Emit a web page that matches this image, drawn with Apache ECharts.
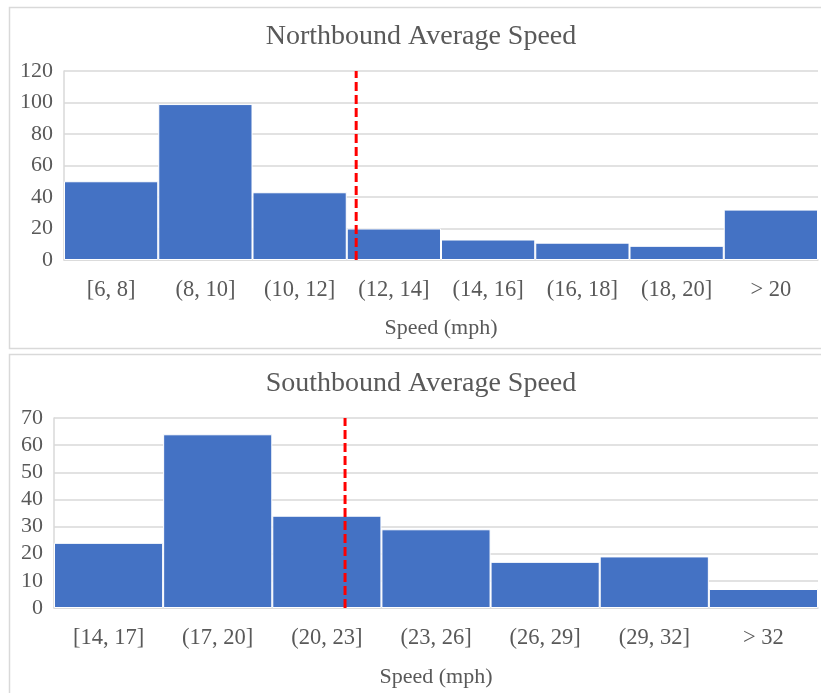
<!DOCTYPE html>
<html><head><meta charset="utf-8">
<script src="https://cdn.jsdelivr.net/npm/echarts@6/dist/echarts.min.js"></script>
<style>html,body{margin:0;padding:0;background:#fff}#c{width:821px;height:693px}</style>
</head><body><div id="c"></div>
<script>
// ---- Northbound data ----
const northTitle = 'Northbound Average Speed';
const northCategories = ['[6, 8]', '(8, 10]', '(10, 12]', '(12, 14]', '(14, 16]', '(16, 18]', '(18, 20]', '> 20'];
const northCounts = [50, 99, 43, 20, 13, 11, 9, 32];
const northBinStart = 6;
const northBinWidth = 2;
const northMeanSpeed = 12.2;
const northYMax = 120;
const northYInterval = 20;

// ---- Southbound data ----
const southTitle = 'Southbound Average Speed';
const southCategories = ['[14, 17]', '(17, 20]', '(20, 23]', '(23, 26]', '(26, 29]', '(29, 32]', '> 32'];
const southCounts = [24, 64, 34, 29, 17, 19, 7];
const southBinStart = 14;
const southBinWidth = 3;
const southMeanSpeed = 22.0;
const southYMax = 70;
const southYInterval = 10;

const xAxisName = 'Speed (mph)';

const FONT = '"Liberation Serif", "Times New Roman", serif';
const TXT = '#595959';
const GRIDC = '#d9d9d9';
const BAR = '#4472C4';

function catAxis(gridIndex, cats, labelMargin, nameGap) {
  return {
    type: 'category', gridIndex, data: cats, boundaryGap: true,
    axisLine: { show: true, lineStyle: { color: GRIDC, width: 1.5 } },
    axisTick: { show: false },
    axisLabel: { color: TXT, fontFamily: FONT, fontSize: 22.5, margin: labelMargin, interval: 0 },
    name: xAxisName, nameLocation: 'middle', nameGap,
    nameTextStyle: { color: TXT, fontFamily: FONT, fontSize: 22 }
  };
}
function valXAxis(gridIndex, n) {
  return { type: 'value', gridIndex, min: 0, max: n, show: false, splitLine: { show: false } };
}
function valYAxis(gridIndex, max, interval) {
  return {
    type: 'value', gridIndex, min: 0, max, interval,
    axisLine: { show: true, lineStyle: { color: GRIDC, width: 1.5 } },
    axisTick: { show: false },
    axisLabel: { color: TXT, fontFamily: FONT, fontSize: 22, margin: 11, padding: [4, 0, 0, 0] },
    splitLine: { show: true, lineStyle: { color: GRIDC, width: 1.5 } }
  };
}
function barSeries(xi, yi, data) {
  return {
    type: 'bar', xAxisIndex: xi, yAxisIndex: yi, data, barWidth: '100%',
    itemStyle: { color: BAR, borderColor: '#ffffff', borderWidth: 1 },
    silent: true, z: 2
  };
}
function meanSeries(xi, yi, pos, max) {
  return {
    type: 'line', xAxisIndex: xi, yAxisIndex: yi, data: [[pos, 0], [pos, max]],
    symbol: 'none', silent: true, z: 5,
    lineStyle: { color: '#ff0000', width: 3, type: [9, 4] }
  };
}

const northPos = (northMeanSpeed - northBinStart) / northBinWidth;
const southPos = (southMeanSpeed - southBinStart) / southBinWidth;

const chart = echarts.init(document.getElementById('c'), null, { renderer: 'canvas' });
chart.setOption({
  animation: false,
  backgroundColor: '#ffffff',
  graphic: [
    { type: 'rect', shape: { x: 9.5, y: 7.5, width: 830, height: 341 }, style: { fill: 'none', stroke: GRIDC, lineWidth: 1.5 }, silent: true, z: -10 },
    { type: 'rect', shape: { x: 9.5, y: 354.5, width: 830, height: 360 }, style: { fill: 'none', stroke: GRIDC, lineWidth: 1.5 }, silent: true, z: -10 }
  ],
  title: [
    { text: northTitle, left: 416, top: 18, textAlign: 'center', textStyle: { color: TXT, fontFamily: FONT, fontSize: 28, fontWeight: 'normal' } },
    { text: southTitle, left: 416, top: 365, textAlign: 'center', textStyle: { color: TXT, fontFamily: FONT, fontSize: 28, fontWeight: 'normal' } }
  ],
  grid: [
    { left: 64, right: 3, top: 71, height: 189, containLabel: false },
    { left: 54, right: 3, top: 418, height: 190, containLabel: false }
  ],
  xAxis: [
    catAxis(0, northCategories, 19, 57),
    catAxis(1, southCategories, 19, 58),
    valXAxis(0, northCategories.length),
    valXAxis(1, southCategories.length)
  ],
  yAxis: [
    valYAxis(0, northYMax, northYInterval),
    valYAxis(1, southYMax, southYInterval)
  ],
  series: [
    barSeries(0, 0, northCounts),
    barSeries(1, 1, southCounts),
    meanSeries(2, 0, northPos, northYMax),
    meanSeries(3, 1, southPos, southYMax)
  ]
});
</script>
</body></html>
